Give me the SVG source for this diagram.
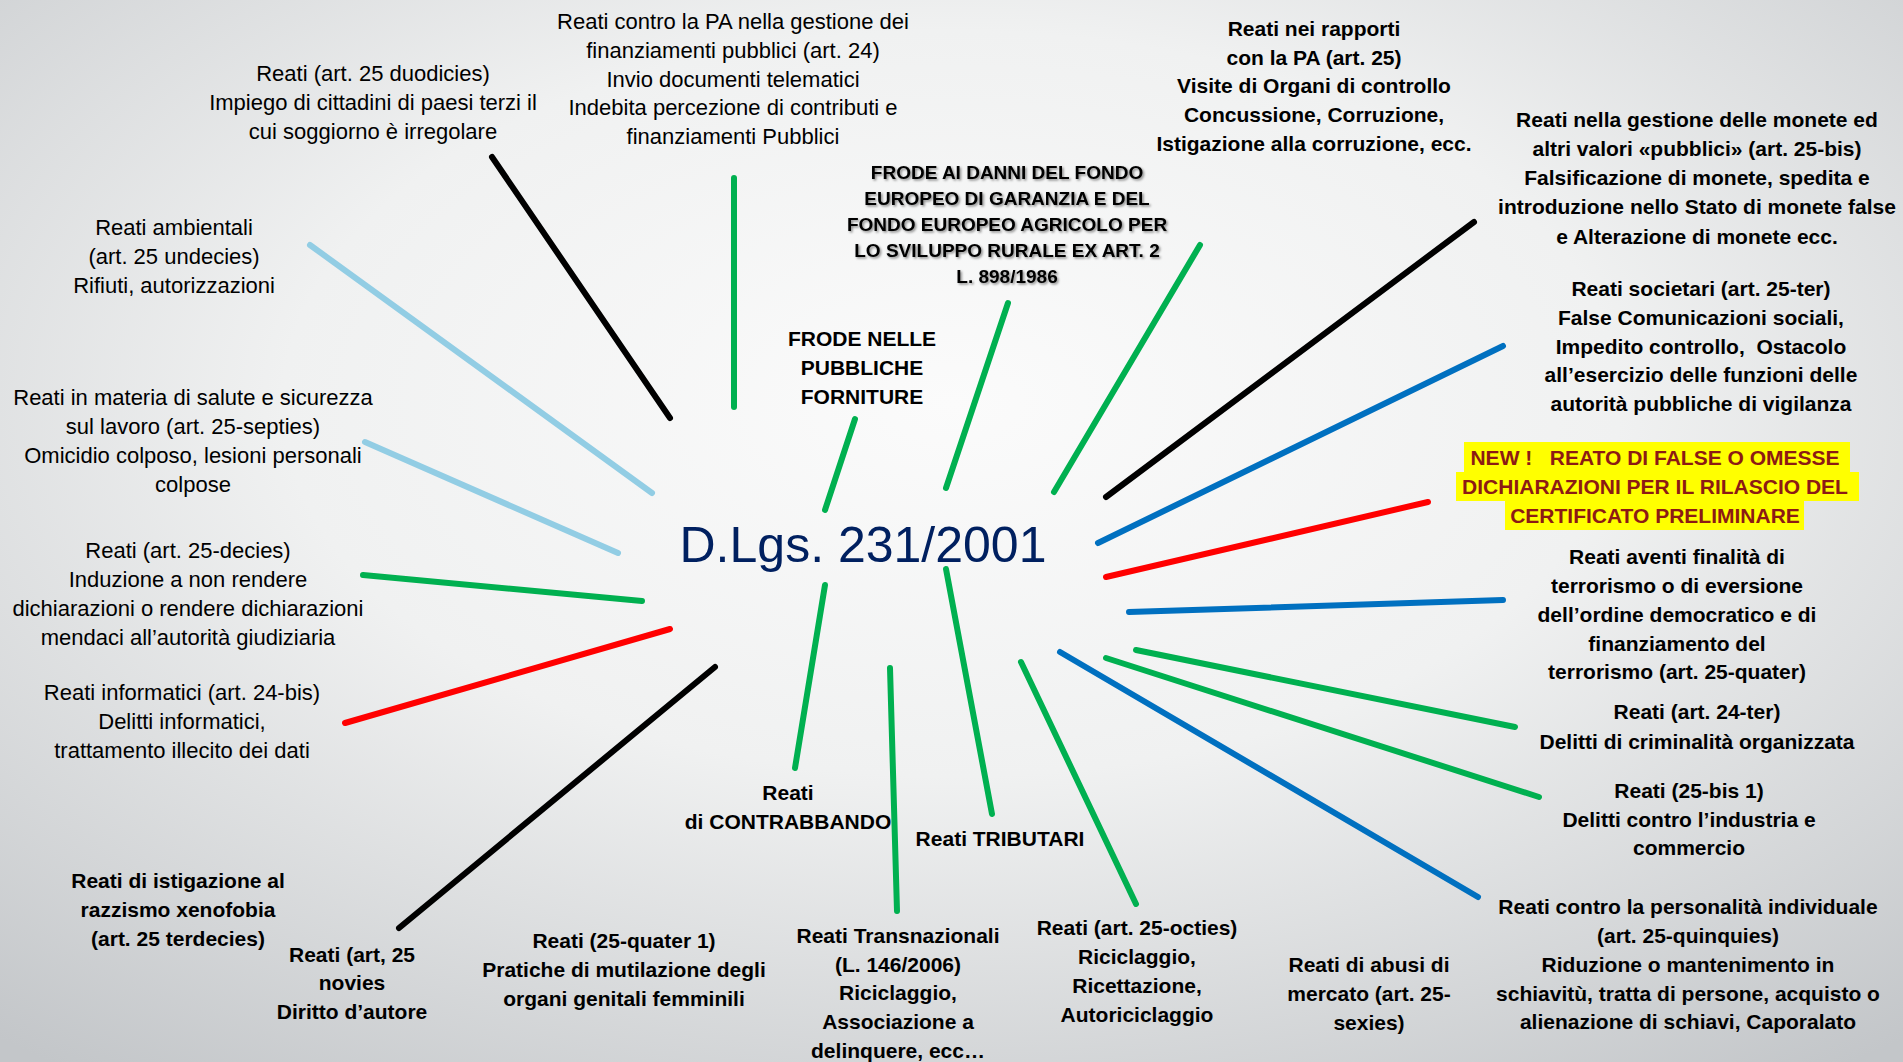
<svg xmlns="http://www.w3.org/2000/svg" width="1903" height="1062" viewBox="0 0 1903 1062">
<defs>
<radialGradient id="bg" cx="50%" cy="38%" r="78%" fx="50%" fy="38%">
<stop offset="0" stop-color="#fbfbfb"/>
<stop offset="0.45" stop-color="#f0f1f1"/>
<stop offset="1" stop-color="#c3c6c9"/>
</radialGradient>
<filter id="shadow" x="-10%" y="-10%" width="120%" height="130%">
<feDropShadow dx="1.5" dy="1.5" stdDeviation="1" flood-color="#000" flood-opacity="0.45"/>
</filter>
<style>
text{font-family:"Liberation Sans",Arial,sans-serif;text-anchor:middle;fill:#000}
.r{font-size:22px}
.b{font-size:21px;font-weight:bold}
.f{font-size:19px;font-weight:bold}
.n{font-size:21px;font-weight:bold;fill:#8c1a14}
.hl{fill:#ffff00}
.title{font-size:50px;fill:#002060}
line{stroke-width:6;stroke-linecap:round;fill:none}
.g{stroke:#00b050}.k{stroke:#000}.lb{stroke:#92cde4}.bl{stroke:#0070c0}.rd{stroke:#ff0000}
</style>
</defs>
<rect x="0" y="0" width="1903" height="1062" fill="url(#bg)"/>

<g id="connectors">
<line class="k" x1="492" y1="157" x2="670" y2="418"/>
<line class="g" x1="734" y1="178" x2="734" y2="407"/>
<line class="lb" x1="310" y1="245" x2="652" y2="493"/>
<line class="lb" x1="365" y1="442" x2="618" y2="553"/>
<line class="g" x1="855" y1="419" x2="825" y2="510"/>
<line class="g" x1="1008" y1="303" x2="946" y2="488"/>
<line class="g" x1="1200" y1="245" x2="1054" y2="492"/>
<line class="k" x1="1474" y1="222" x2="1106" y2="497"/>
<line class="bl" x1="1503" y1="346" x2="1098" y2="543"/>
<line class="rd" x1="1428" y1="502" x2="1106" y2="577"/>
<line class="bl" x1="1129" y1="612" x2="1503" y2="600"/>
<line class="g" x1="1136" y1="650" x2="1515" y2="727"/>
<line class="g" x1="1106" y1="658" x2="1539" y2="797"/>
<line class="bl" x1="1060" y1="652" x2="1478" y2="897"/>
<line class="g" x1="1021" y1="662" x2="1136" y2="904"/>
<line class="g" x1="946" y1="569" x2="992" y2="814"/>
<line class="g" x1="363" y1="575" x2="642" y2="601"/>
<line class="rd" x1="670" y1="629" x2="345" y2="723"/>
<line class="k" x1="715" y1="667" x2="399" y2="928"/>
<line class="g" x1="825" y1="585" x2="795" y2="768"/>
<line class="g" x1="890" y1="668" x2="897" y2="911"/>
</g>

<g id="center">
<text class="title" x="863" y="562">D.Lgs. 231/2001</text>
</g>

<g id="n-art24">
<text class="r" x="733" y="29">Reati contro la PA nella gestione dei</text>
<text class="r" x="733" y="58">finanziamenti pubblici (art. 24)</text>
<text class="r" x="733" y="87">Invio documenti telematici</text>
<text class="r" x="733" y="115">Indebita percezione di contributi e</text>
<text class="r" x="733" y="144">finanziamenti Pubblici</text>
</g>

<g id="n-duodicies">
<text class="r" x="373" y="81">Reati (art. 25 duodicies)</text>
<text class="r" x="373" y="110">Impiego di cittadini di paesi terzi il</text>
<text class="r" x="373" y="139">cui soggiorno è irregolare</text>
</g>

<g id="n-ambientali">
<text class="r" x="174" y="235">Reati ambientali</text>
<text class="r" x="174" y="264">(art. 25 undecies)</text>
<text class="r" x="174" y="293">Rifiuti, autorizzazioni</text>
</g>

<g id="n-septies">
<text class="r" x="193" y="405">Reati in materia di salute e sicurezza</text>
<text class="r" x="193" y="434">sul lavoro (art. 25-septies)</text>
<text class="r" x="193" y="463">Omicidio colposo, lesioni personali</text>
<text class="r" x="193" y="492">colpose</text>
</g>

<g id="n-decies">
<text class="r" x="188" y="558">Reati (art. 25-decies)</text>
<text class="r" x="188" y="587">Induzione a non rendere</text>
<text class="r" x="188" y="616">dichiarazioni o rendere dichiarazioni</text>
<text class="r" x="188" y="645">mendaci all’autorità giudiziaria</text>
</g>

<g id="n-informatici">
<text class="r" x="182" y="700">Reati informatici (art. 24-bis)</text>
<text class="r" x="182" y="729">Delitti informatici,</text>
<text class="r" x="182" y="758">trattamento illecito dei dati</text>
</g>

<g id="n-terdecies">
<text class="b" x="178" y="888">Reati di istigazione al</text>
<text class="b" x="178" y="917">razzismo xenofobia</text>
<text class="b" x="178" y="946">(art. 25 terdecies)</text>
</g>

<g id="n-novies">
<text class="b" x="352" y="962">Reati (art, 25</text>
<text class="b" x="352" y="990">novies</text>
<text class="b" x="352" y="1019">Diritto d’autore</text>
</g>

<g id="n-quater1">
<text class="b" x="624" y="948">Reati (25-quater 1)</text>
<text class="b" x="624" y="977">Pratiche di mutilazione degli</text>
<text class="b" x="624" y="1006">organi genitali femminili</text>
</g>

<g id="n-transnazionali">
<text class="b" x="898" y="943">Reati Transnazionali</text>
<text class="b" x="898" y="972">(L. 146/2006)</text>
<text class="b" x="898" y="1000">Riciclaggio,</text>
<text class="b" x="898" y="1029">Associazione a</text>
<text class="b" x="898" y="1058">delinquere, ecc…</text>
</g>

<g id="n-octies">
<text class="b" x="1137" y="935">Reati (art. 25-octies)</text>
<text class="b" x="1137" y="964">Riciclaggio,</text>
<text class="b" x="1137" y="993">Ricettazione,</text>
<text class="b" x="1137" y="1022">Autoriciclaggio</text>
</g>

<g id="n-sexies">
<text class="b" x="1369" y="972">Reati di abusi di</text>
<text class="b" x="1369" y="1001">mercato (art. 25-</text>
<text class="b" x="1369" y="1030">sexies)</text>
</g>

<g id="n-quinquies">
<text class="b" x="1688" y="914">Reati contro la personalità individuale</text>
<text class="b" x="1688" y="943">(art. 25-quinquies)</text>
<text class="b" x="1688" y="972">Riduzione o mantenimento in</text>
<text class="b" x="1688" y="1001">schiavitù, tratta di persone, acquisto o</text>
<text class="b" x="1688" y="1029">alienazione di schiavi, Caporalato</text>
</g>

<g id="n-bis1">
<text class="b" x="1689" y="798">Reati (25-bis 1)</text>
<text class="b" x="1689" y="827">Delitti contro l’industria e</text>
<text class="b" x="1689" y="855">commercio</text>
</g>

<g id="n-ter24">
<text class="b" x="1697" y="719">Reati (art. 24-ter)</text>
<text class="b" x="1697" y="749">Delitti di criminalità organizzata</text>
</g>

<g id="n-quater">
<text class="b" x="1677" y="564">Reati aventi finalità di</text>
<text class="b" x="1677" y="593">terrorismo o di eversione</text>
<text class="b" x="1677" y="622">dell’ordine democratico e di</text>
<text class="b" x="1677" y="651">finanziamento del</text>
<text class="b" x="1677" y="679">terrorismo (art. 25-quater)</text>
</g>

<g id="n-new">
<rect class="hl" x="1464" y="442" width="386" height="30"/>
<rect class="hl" x="1456" y="472" width="403" height="29"/>
<rect class="hl" x="1505" y="501" width="299" height="29"/>
<text class="n" x="1655" y="465" xml:space="preserve">NEW !   REATO DI FALSE O OMESSE</text>
<text class="n" x="1655" y="494">DICHIARAZIONI PER IL RILASCIO DEL</text>
<text class="n" x="1655" y="523">CERTIFICATO PRELIMINARE</text>
</g>

<g id="n-societari">
<text class="b" x="1701" y="296">Reati societari (art. 25-ter)</text>
<text class="b" x="1701" y="325">False Comunicazioni sociali,</text>
<text class="b" x="1701" y="354" xml:space="preserve">Impedito controllo,  Ostacolo</text>
<text class="b" x="1701" y="382">all’esercizio delle funzioni delle</text>
<text class="b" x="1701" y="411">autorità pubbliche di vigilanza</text>
</g>

<g id="n-monete">
<text class="b" x="1697" y="127">Reati nella gestione delle monete ed</text>
<text class="b" x="1697" y="156">altri valori «pubblici» (art. 25-bis)</text>
<text class="b" x="1697" y="185">Falsificazione di monete, spedita e</text>
<text class="b" x="1697" y="214">introduzione nello Stato di monete false</text>
<text class="b" x="1697" y="244">e Alterazione di monete ecc.</text>
</g>

<g id="n-art25">
<text class="b" x="1314" y="36">Reati nei rapporti</text>
<text class="b" x="1314" y="65">con la PA (art. 25)</text>
<text class="b" x="1314" y="93">Visite di Organi di controllo</text>
<text class="b" x="1314" y="122">Concussione, Corruzione,</text>
<text class="b" x="1314" y="151">Istigazione alla corruzione, ecc.</text>
</g>

<g id="n-frode-fondo" filter="url(#shadow)">
<text class="f" x="1007" y="179">FRODE AI DANNI DEL FONDO</text>
<text class="f" x="1007" y="205">EUROPEO DI GARANZIA E DEL</text>
<text class="f" x="1007" y="231">FONDO EUROPEO AGRICOLO PER</text>
<text class="f" x="1007" y="257">LO SVILUPPO RURALE EX ART. 2</text>
<text class="f" x="1007" y="283">L. 898/1986</text>
</g>

<g id="n-frode-forniture">
<text class="b" x="862" y="346">FRODE NELLE</text>
<text class="b" x="862" y="375">PUBBLICHE</text>
<text class="b" x="862" y="404">FORNITURE</text>
</g>

<g id="n-contrabbando">
<text class="b" x="788" y="800">Reati</text>
<text class="b" x="788" y="829">di CONTRABBANDO</text>
</g>

<g id="n-tributari">
<text class="b" x="1000" y="846">Reati TRIBUTARI</text>
</g>
</svg>
